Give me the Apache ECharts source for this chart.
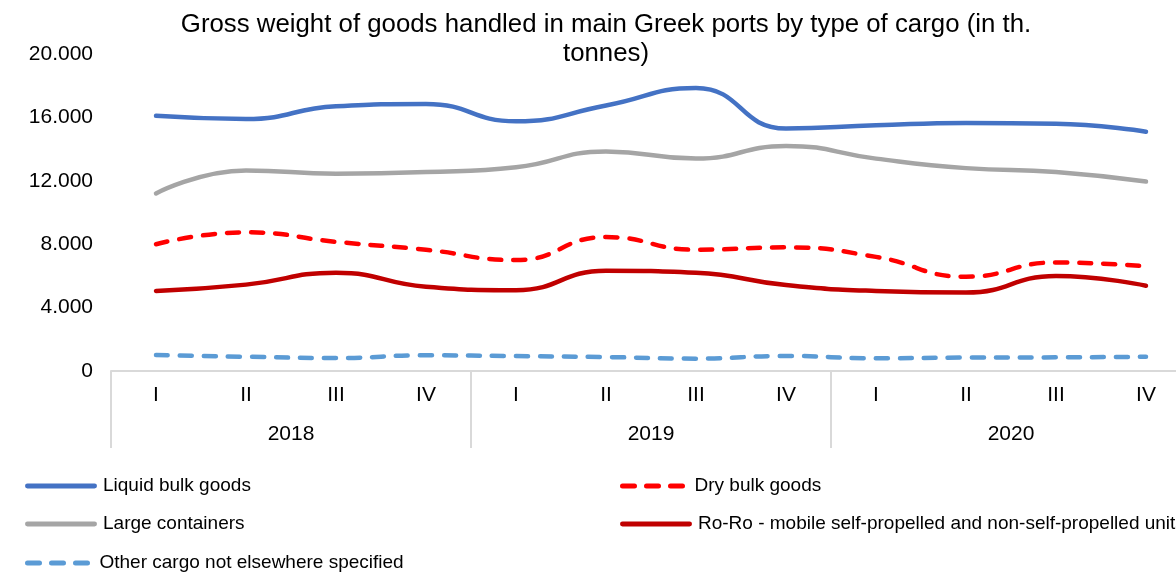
<!DOCTYPE html>
<html>
<head>
<meta charset="utf-8">
<script src="https://cdn.jsdelivr.net/npm/echarts@6/dist/echarts.min.js"></script>
<style>html,body{margin:0;padding:0;background:#fff;overflow:hidden;width:1176px;height:573px;}#c{width:1191px;height:573px;}</style>
</head>
<body>
<div id="c"></div>
<script>
const quarters = ["I","II","III","IV","I","II","III","IV","I","II","III","IV"];
const years = ["2018","2019","2020"];
const liquidBulk = [16100, 15900, 16700, 16850, 15750, 16750, 17850, 15300, 15500, 15650, 15600, 15100];
const dryBulk = [8000, 8750, 8150, 7650, 7000, 8450, 7650, 7800, 7200, 5950, 6850, 6600];
const largeContainers = [11200, 12650, 12450, 12550, 12850, 13850, 13400, 14200, 13400, 12800, 12550, 11950];
const roRo = [5050, 5450, 6200, 5320, 5100, 6330, 6200, 5420, 5050, 4950, 5990, 5380];
const otherCargo = [1010, 900, 820, 990, 940, 880, 780, 950, 800, 850, 860, 900];
const seriesNames = ["Liquid bulk goods","Dry bulk goods","Large containers","Ro-Ro - mobile self-propelled and non-self-propelled units","Other cargo not elsewhere specified"];

const FONT = "'Liberation Sans', Arial, sans-serif";
const SOLID_ICON = 'path://M2,0h68a2,2 0 0 1 0,5h-68a2,2 0 0 1 0,-5z';
const DASH_ICON = 'path://M2,0h12a2,2 0 0 1 0,5h-12a2,2 0 0 1 0,-5z M26,0h12a2,2 0 0 1 0,5h-12a2,2 0 0 1 0,-5z M50,0h12a2,2 0 0 1 0,5h-12a2,2 0 0 1 0,-5z';
function fmt(v){ return String(v).replace(/\B(?=(\d{3})+(?!\d))/g, '.'); }
function mk(name, data, color, dashed){
  return {
    name: name, type: 'line', data: data, xAxisIndex: 0, yAxisIndex: 0,
    smooth: 0.5, symbol: 'none', showSymbol: false,
    lineStyle: { color: color, width: 4.5, type: dashed ? [12, 12] : 'solid', cap: 'round', join: 'round' },
    itemStyle: { color: color }
  };
}
function lg(name, left, top, dashed, w){
  return {
    data: [name], left: left, top: top, padding: 0, orient: 'horizontal',
    itemWidth: w, itemHeight: 5, icon: dashed ? DASH_ICON : SOLID_ICON,
    selectedMode: false,
    textStyle: { fontFamily: FONT, fontSize: 19, color: '#000', lineHeight: 20, padding: [0, 0, 0, 1] }
  };
}
const chart = echarts.init(document.getElementById('c'), null, { renderer: 'canvas' });
chart.setOption({
  animation: false,
  backgroundColor: '#fff',
  title: {
    text: 'Gross weight of goods handled in main Greek ports by type of cargo (in th.\ntonnes)',
    left: 601, top: 5, textAlign: 'center',
    textStyle: { fontFamily: FONT, fontSize: 25.8, fontWeight: 'normal', color: '#000', lineHeight: 29 }
  },
  grid: { left: 111, right: 0, top: 54, bottom: 202, containLabel: false },
  xAxis: [
    {
      type: 'category', data: quarters, boundaryGap: true, position: 'bottom',
      axisLine: { show: false }, axisTick: { show: false },
      axisLabel: { margin: 14, fontFamily: FONT, fontSize: 21, color: '#000', interval: 0 },
      splitLine: { show: false }
    },
    {
      type: 'category', data: years, boundaryGap: true, position: 'bottom', offset: 0,
      axisLine: { show: true, lineStyle: { color: '#d9d9d9', width: 2 } },
      axisTick: { show: true, length: 77, interval: 0, lineStyle: { color: '#d9d9d9', width: 2 } },
      axisLabel: { margin: 53, fontFamily: FONT, fontSize: 21, color: '#000', interval: 0 },
      splitLine: { show: false }
    }
  ],
  yAxis: {
    type: 'value', min: 0, max: 20000, interval: 4000,
    axisLine: { show: false }, axisTick: { show: false }, splitLine: { show: false },
    axisLabel: { margin: 18, fontFamily: FONT, fontSize: 21, color: '#000', formatter: fmt }
  },
  legend: [
    lg(seriesNames[0], 25, 476, false, 72),
    lg(seriesNames[2], 25, 514, false, 72),
    lg(seriesNames[4], 25, 553, true, 72),
    lg(seriesNames[1], 620, 476, true, 72),
    lg(seriesNames[3], 620, 514, false, 72)
  ],
  series: [
    mk(seriesNames[0], liquidBulk, '#4472C4', false),
    mk(seriesNames[1], dryBulk, '#FF0000', true),
    mk(seriesNames[2], largeContainers, '#A5A5A5', false),
    mk(seriesNames[3], roRo, '#C00000', false),
    mk(seriesNames[4], otherCargo, '#5B9BD5', true)
  ]
});
</script>
</body>
</html>
